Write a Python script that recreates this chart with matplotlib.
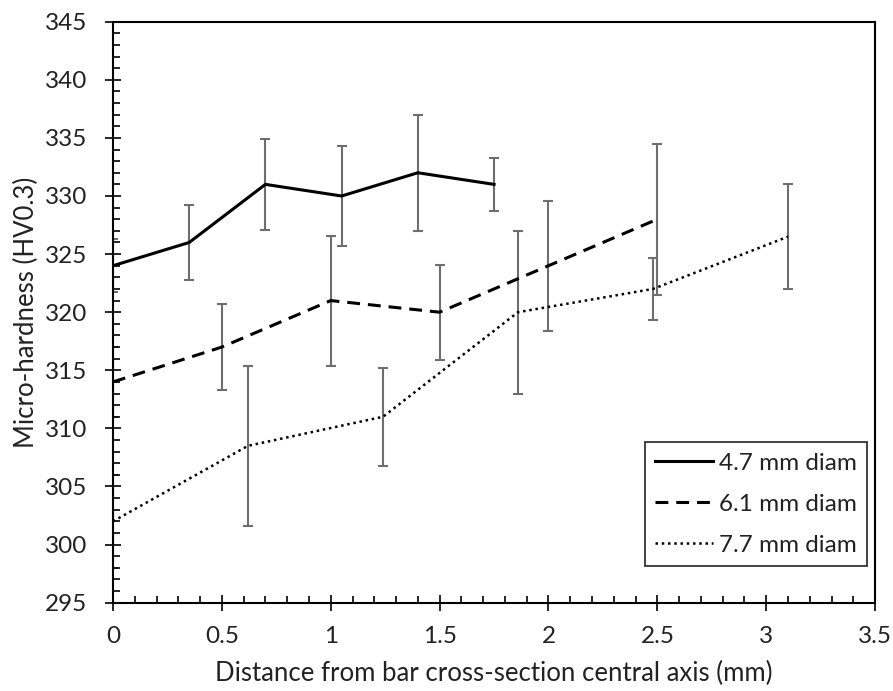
import matplotlib.pyplot as plt
from matplotlib.ticker import MultipleLocator

plt.rcParams['font.family'] = ['Lato', 'DejaVu Sans']

# hardness profiles
x_47 = [0, 0.35, 0.70, 1.05, 1.40, 1.75]
hv_47 = [324, 326, 331, 330, 332, 331]
err_47 = [2.3, 3.2, 3.9, 4.3, 5.0, 2.3]

x_61 = [0, 0.5, 1.0, 1.5, 2.0, 2.5]
hv_61 = [314, 317, 321, 320, 324, 328]
err_61 = [3.0, 3.7, 5.6, 4.1, 5.6, 6.5]

x_77 = [0, 0.62, 1.24, 1.86, 2.48, 3.10]
hv_77 = [302, 308.5, 311, 320, 322, 326.5]
err_77 = [4.0, 6.9, 4.2, 7.0, 2.7, 4.5]

labels = ['4.7 mm diam', '6.1 mm diam', '7.7 mm diam']

fig = plt.figure(figsize=(8.93, 6.91), dpi=100)
ax = fig.add_axes([0.1265, 0.1278, 0.8535, 0.8408])

err_kw = dict(ecolor='#6e6e6e', elinewidth=1.5, capsize=3.6, capthick=1.5, zorder=1)

ax.errorbar(x_47, hv_47, yerr=err_47, fmt='none', **err_kw)
ax.errorbar(x_61, hv_61, yerr=err_61, fmt='none', **err_kw)
ax.errorbar(x_77, hv_77, yerr=err_77, fmt='none', **err_kw)

l1, = ax.plot(x_47, hv_47, color='black', lw=2.2, ls='-', zorder=3)
l2, = ax.plot(x_61, hv_61, color='black', lw=2.2, ls=(0, (4.2, 2.6)), zorder=3)
l3, = ax.plot(x_77, hv_77, color='black', lw=1.8, ls=(0, (1, 1.5)), zorder=3)

ax.set_xlim(0, 3.5)
ax.set_ylim(295, 345)
ax.xaxis.set_major_locator(MultipleLocator(0.5))
ax.xaxis.set_minor_locator(MultipleLocator(0.1))
ax.yaxis.set_major_locator(MultipleLocator(5))
ax.yaxis.set_minor_locator(MultipleLocator(1))
ax.xaxis.set_major_formatter(lambda v, p: f'{v:g}')

ax.tick_params(which='major', direction='inout', length=11, width=1.2,
               labelsize=17.5, colors='black', labelcolor='#222222')
ax.tick_params(axis='x', which='major', pad=11)
ax.tick_params(axis='y', which='major', pad=13)
ax.tick_params(which='minor', direction='in', length=5, width=1.2)
for s in ax.spines.values():
    s.set_linewidth(1.5)

ax.set_xlabel('Distance from bar cross-section central axis (mm)', fontsize=18.5,
              color='#222222', labelpad=10)
ax.set_ylabel('Micro-hardness (HV0.3)', fontsize=18.5, color='#222222', labelpad=4)

leg = ax.legend([l1, l2, l3], labels, loc='lower right', bbox_to_anchor=(0.989, 0.063),
                fontsize=17.5, frameon=True, fancybox=False, handlelength=2.35,
                handletextpad=0.25, labelspacing=0.83, borderpad=0.42, borderaxespad=0)
leg.get_frame().set_edgecolor('black')
leg.get_frame().set_linewidth(1.3)
for t in leg.get_texts():
    t.set_color('#222222')

fig.savefig('out.png', dpi=100)
